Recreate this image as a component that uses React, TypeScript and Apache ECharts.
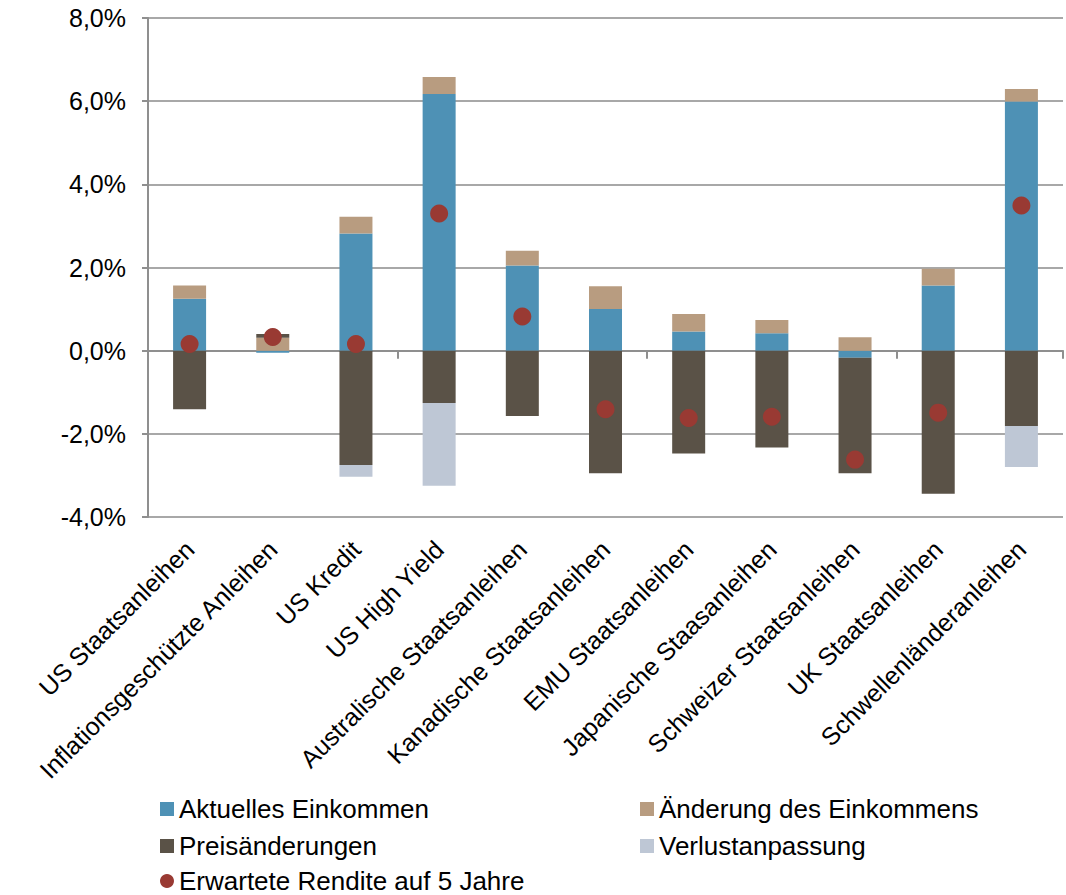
import React, { useEffect, useRef } from "react";
import * as echarts from "echarts";

const categories = [
  "US Staatsanleihen",
  "Inflationsgeschützte Anleihen",
  "US Kredit",
  "US High Yield",
  "Australische Staatsanleihen",
  "Kanadische Staatsanleihen",
  "EMU Staatsanleihen",
  "Japanische Staasanleihen",
  "Schweizer Staatsanleihen",
  "UK Staatsanleihen",
  "Schwellenländeranleihen",
];

// Return components in percent
const aktuellesEinkommen = [1.25, -0.05, 2.82, 6.17, 2.05, 1.0, 0.46, 0.42, -0.17, 1.57, 5.99];
const aenderungEinkommen = [0.32, 0.31, 0.4, 0.41, 0.35, 0.55, 0.42, 0.32, 0.32, 0.4, 0.3];
const preisaenderungen = [-1.41, 0.09, -2.75, -1.26, -1.57, -2.95, -2.47, -2.33, -2.78, -3.44, -1.81];
const verlustanpassung = [0, 0, -0.28, -1.99, 0, 0, 0, 0, 0, 0, -0.99];
const erwarteteRendite = [0.16, 0.33, 0.16, 3.3, 0.82, -1.41, -1.62, -1.59, -2.62, -1.49, 3.49];

const yTicks = { min: -4, max: 8, interval: 2 };

const FONT = "'Liberation Sans', Arial, sans-serif";
const AXIS_GRAY = "#8f8f8f";
const GRID_GRAY = "#a8a8a8";

const COLORS = {
  blue: "#4e91b5",
  tan: "#b89c80",
  dark: "#5a5247",
  light: "#bec7d5",
  dot: "#993a33",
};

const fmtPct = (v: number) => v.toFixed(1).replace(".", ",") + "%";

export default function App() {
  const ref = useRef<HTMLDivElement>(null);

  useEffect(() => {
    document.body.style.margin = "0";
    if (!ref.current) return;
    const chart = echarts.init(ref.current, undefined, { renderer: "svg" });

    const legendText = { fontFamily: FONT, fontSize: 26, color: "#000" };
    const legendBase = {
      orient: "horizontal",
      padding: 0,
      itemWidth: 14,
      itemHeight: 14,
      itemGap: 6,
      textStyle: legendText,
      selectedMode: false,
    };

    const barBase = {
      type: "bar",
      stack: "total",
      barWidth: 33,
      xAxisIndex: 0,
    };

    chart.setOption({
      animation: false,
      backgroundColor: "#fff",
      grid: { left: 148, right: 3, top: 18, bottom: 378, containLabel: false },
      legend: [
        { ...legendBase, left: 160, top: 796, data: [{ name: "Aktuelles Einkommen", icon: "rect" }] },
        { ...legendBase, left: 640, top: 796, data: [{ name: "Änderung des Einkommens", icon: "rect" }] },
        { ...legendBase, left: 160, top: 833, data: [{ name: "Preisänderungen", icon: "rect" }] },
        { ...legendBase, left: 640, top: 833, data: [{ name: "Verlustanpassung", icon: "rect" }] },
        { ...legendBase, left: 160, top: 868, data: [{ name: "Erwartete Rendite auf 5 Jahre", icon: "circle" }] },
      ],
      xAxis: [
        {
          type: "category",
          data: categories,
          position: "bottom",
          axisLine: { show: true, onZero: true, lineStyle: { color: AXIS_GRAY, width: 2 } },
          axisTick: { show: true, length: 8, lineStyle: { color: AXIS_GRAY, width: 2 } },
          axisLabel: { show: false },
          splitLine: { show: false },
        },
        {
          type: "category",
          data: categories,
          position: "bottom",
          axisLine: { show: false, onZero: false },
          axisTick: { show: false },
          axisLabel: {
            show: true,
            interval: 0,
            rotate: 45,
            margin: 28,
            fontFamily: FONT,
            fontSize: 25,
            color: "#000",
          },
          splitLine: { show: false },
        },
      ],
      yAxis: {
        type: "value",
        min: yTicks.min,
        max: yTicks.max,
        interval: yTicks.interval,
        axisLine: { show: true, lineStyle: { color: AXIS_GRAY, width: 2 } },
        axisTick: { show: true, length: 6, lineStyle: { color: AXIS_GRAY, width: 2 } },
        axisLabel: {
          formatter: fmtPct,
          margin: 22,
          fontFamily: FONT,
          fontSize: 25,
          color: "#000",
        },
        splitLine: { show: true, lineStyle: { color: GRID_GRAY, width: 2 } },
      },
      series: [
        { ...barBase, name: "Aktuelles Einkommen", data: aktuellesEinkommen, itemStyle: { color: COLORS.blue } },
        { ...barBase, name: "Änderung des Einkommens", data: aenderungEinkommen, itemStyle: { color: COLORS.tan } },
        { ...barBase, name: "Preisänderungen", data: preisaenderungen, itemStyle: { color: COLORS.dark } },
        { ...barBase, name: "Verlustanpassung", data: verlustanpassung, itemStyle: { color: COLORS.light } },
        {
          type: "scatter",
          name: "Erwartete Rendite auf 5 Jahre",
          data: erwarteteRendite,
          symbol: "circle",
          symbolSize: 18,
          itemStyle: { color: COLORS.dot, opacity: 1 },
          z: 5,
        },
      ],
    });

    return () => chart.dispose();
  }, []);

  return <div ref={ref} style={{ width: 1066, height: 895 }} />;
}
